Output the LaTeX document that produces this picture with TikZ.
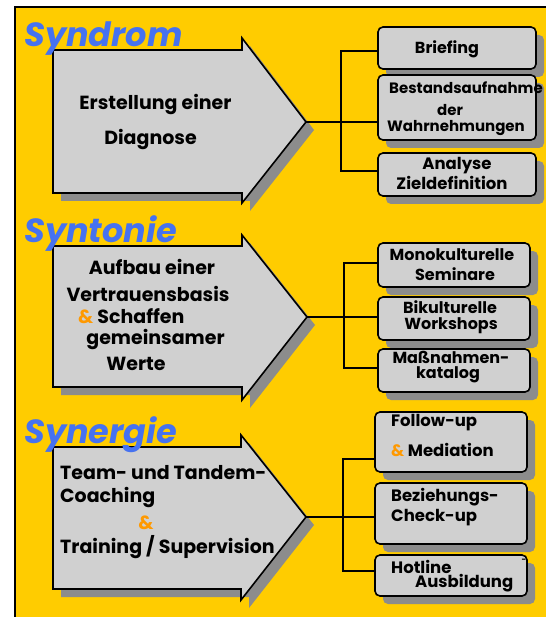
\documentclass[tikz,border=0pt]{standalone}
\usepackage{fontspec}
\setmainfont{Poppins}
\usetikzlibrary{shadows}
\definecolor{bgyellow}{RGB}{255,204,0}
\definecolor{boxgray}{RGB}{208,208,208}
\definecolor{shadowgray}{RGB}{140,140,140}
\definecolor{titleblue}{RGB}{70,114,240}
\definecolor{ampcolor}{RGB}{255,153,0}
\begin{document}
\begin{tikzpicture}[x=1pt,y=-1pt,
  box/.style={draw=black, line width=1.6pt, fill=boxgray, rounded corners=5pt, inner sep=0pt,
    drop shadow={shadow xshift=8pt, shadow yshift=-8pt, fill=shadowgray, opacity=1}},
  bigarrow/.style={draw=black, line width=1.6pt, fill=boxgray, line join=miter},
  arrowshadow/.style={fill=shadowgray},
  conn/.style={draw=black, line width=1.6pt},
  title/.style={anchor=base west, inner sep=0pt, text=titleblue, font=\fontsize{33.5}{33.5}\selectfont\bfseries\itshape},
  atext/.style={inner sep=0pt, font=\fontsize{19}{19}\selectfont\bfseries},
  btext/.style={inner sep=0pt, font=\fontsize{16}{16}\selectfont\bfseries},
  ctext/.style={inner sep=0pt, font=\fontsize{15}{15}\selectfont\bfseries},
  dtext/.style={inner sep=0pt, font=\fontsize{16.5}{16.5}\selectfont\bfseries}]
\useasboundingbox (0,0) rectangle (546,617);
\fill[white] (0,0) rectangle (546,617);
\fill[bgyellow] (15,7) rectangle (546,617);
\draw[line width=2pt] (15,617) -- (15,7) -- (546,7);

% ---------- Section 1: Syndrom ----------
\fill[arrowshadow, shift={(8,8)}] (53,50) -- (242,50) -- (242,38) -- (306,122) -- (242,203) -- (242,193) -- (53,193) -- cycle;
\draw[bigarrow] (53,50) -- (242,50) -- (242,38) -- (306,122) -- (242,203) -- (242,193) -- (53,193) -- cycle;
\coordinate (t1) at (306,122);
\node[atext] (a11) at (155.5,105) {Erstellung einer};
\node[atext] (a12) at (150.5,140) {Diagnose};

\node[box, minimum width=158, minimum height=42] (b11) at (457,48) {};
\node[box, minimum width=158, minimum height=65] (b12) at (457,107.5) {};
\node[box, minimum width=158, minimum height=43] (b13) at (457,174.5) {};
\coordinate (v11) at (341,51);
\coordinate (v13) at (341,171);
\draw[conn] (t1) -- (t1 -| b12.west);
\draw[conn] (v11 -| b11.west) -- (v11) -- (v13) -- (v13 -| b13.west);

\node[btext] (x11) at (447,49) {Briefing};
\node[ctext, anchor=west] (x12) at (389,88) {Bestandsaufnahme};
\node[ctext] (x13) at (450,110) {der};
\node[ctext] (x14) at (456,128) {Wahrnehmungen};
\node[dtext] (x15) at (457,166) {Analyse};
\node[dtext] (x16) at (452,183) {Zieldefinition};

% ---------- Section 2: Syntonie ----------
\fill[arrowshadow, shift={(8,8)}] (53,246) -- (242,246) -- (242,235) -- (307,317) -- (242,400) -- (242,387) -- (53,387) -- cycle;
\draw[bigarrow] (53,246) -- (242,246) -- (242,235) -- (307,317) -- (242,400) -- (242,387) -- (53,387) -- cycle;
\coordinate (t2) at (307,317);
\node[atext] (a21) at (152,267) {Aufbau einer};
\node[atext] (a22) at (148,294) {Vertrauensbasis};
\node[atext, anchor=west] (a23) at (78,316) {\textcolor{ampcolor}{\&} Schaffen};
\node[atext] (a24) at (155.5,340) {gemeinsamer};
\node[atext] (a25) at (136,364) {Werte};

\node[box, minimum width=152, minimum height=44] (b21) at (454,265) {};
\node[box, minimum width=152, minimum height=43] (b22) at (454,318.5) {};
\node[box, minimum width=152, minimum height=43] (b23) at (454,370.5) {};
\coordinate (v21) at (344,263);
\coordinate (v23) at (344,368);
\draw[conn] (t2) -- (t2 -| b22.west);
\draw[conn] (v21 -| b21.west) -- (v21) -- (v23) -- (v23 -| b23.west);

\node[btext] (x21) at (452,255) {Monokulturelle};
\node[btext] (x22) at (455,274) {Seminare};
\node[btext] (x23) at (450,307) {Bikulturelle};
\node[btext] (x24) at (451,326) {Workshops};
\node[btext] (x25) at (451,357) {Maßnahmen-};
\node[btext] (x26) at (448,375) {katalog};

% ---------- Section 3: Synergie ----------
\fill[arrowshadow, shift={(8,8)}] (53,447) -- (241,447) -- (241,435) -- (306,517) -- (241,600) -- (241,589) -- (53,589) -- cycle;
\draw[bigarrow] (53,447) -- (241,447) -- (241,435) -- (306,517) -- (241,600) -- (241,589) -- (53,589) -- cycle;
\coordinate (t3) at (306,517);
\node[atext, anchor=west] (a31) at (60,473) {Team- und Tandem-};
\node[atext, anchor=west] (a32) at (60,497) {Coaching};
\node[atext, text=ampcolor] (a33) at (146,523) {\&};
\node[atext, anchor=west] (a34) at (60,547) {Training / Supervision};

\node[box, minimum width=152, minimum height=60] (b31) at (451,442) {};
\node[box, minimum width=152, minimum height=61] (b32) at (451,513.5) {};
\node[box, minimum width=152, minimum height=41] (b33) at (451,575.5) {};
\coordinate (v31) at (343,459);
\coordinate (v33) at (343,571);
\draw[conn] (t3) -- (t3 -| b32.west);
\draw[conn] (v31 -| b31.west) -- (v31) -- (v33) -- (v33 -| b33.west);

\node[dtext, anchor=west] (x31) at (391,423) {Follow-up};
\node[dtext, anchor=west] (x32) at (391,450) {\textcolor{ampcolor}{\&} Mediation};
\node[dtext, anchor=west] (x33) at (391,497) {Beziehungs-};
\node[dtext, anchor=west] (x34) at (391,518) {Check-up};
\node[dtext, anchor=west] (x35) at (391,567) {Hotline};
\node[dtext, anchor=west] (x36) at (415,583) {Ausbildung};
\node[inner sep=0pt, font=\fontsize{8}{8}\selectfont\bfseries] (x37) at (524,561) {-};

% ---------- Titles (on top) ----------
\node[title] (tit1) at (24,47) {Syndrom};
\node[title] (tit2) at (24,243) {Syntonie};
\node[title] (tit3) at (24,443) {Synergie};
\end{tikzpicture}
\end{document}
